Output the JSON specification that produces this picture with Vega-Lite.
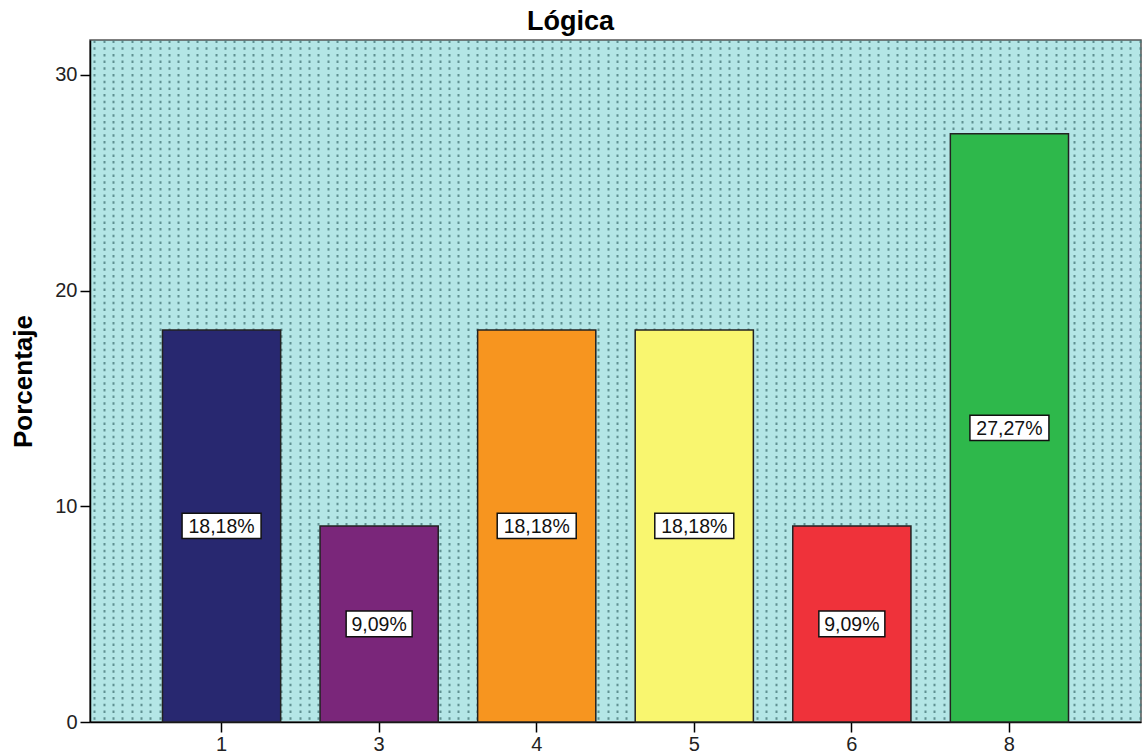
{
  "$schema": "https://vega.github.io/schema/vega-lite/v6.json",
  "width": 1051,
  "height": 682,
  "autosize": {"type": "none"},
  "padding": {"left": 90, "top": 40, "right": 2, "bottom": 31},
  "background": "white",
  "title": {"text": "Lógica", "font": "Liberation Sans", "fontSize": 27, "fontWeight": "bold", "color": "#000000", "anchor": "middle", "dx": -45, "offset": 4},
  "config": {
    "view": {"fill": "#b4e6e6", "stroke": "#555555", "strokeWidth": 1.5},
    "axis": {"labelFont": "Liberation Sans", "titleFont": "Liberation Sans", "labelColor": "#222222", "titleColor": "#000000"}
  },
  "layer": [
    {
      "data": {"values": [{"g": 0}]},
      "mark": {"type": "point", "opacity": 0},
      "encoding": {
        "x": {
          "field": "g", "type": "quantitative",
          "scale": {"domain": [-0.46, 112.14], "nice": false, "zero": false},
          "axis": {"orient": "top", "grid": true, "tickCount": 113, "gridDash": [2.5, 4.2], "gridColor": "#4a7b7c", "gridWidth": 2, "gridOpacity": 0.8, "labels": false, "ticks": false, "domain": false, "title": null}
        }
      }
    },
    {
      "data": {"values": [
        {"Categoria": "1", "Porcentaje": 18.18},
        {"Categoria": "3", "Porcentaje": 9.09},
        {"Categoria": "4", "Porcentaje": 18.18},
        {"Categoria": "5", "Porcentaje": 18.18},
        {"Categoria": "6", "Porcentaje": 9.09},
        {"Categoria": "8", "Porcentaje": 27.27}
      ]},
      "transform": [
        {"calculate": "replace(format(datum.Porcentaje, '.2f'), '.', ',') + '%'", "as": "Etiqueta"},
        {"calculate": "datum.Porcentaje / 2", "as": "Mitad"}
      ],
      "encoding": {
        "x": {
          "field": "Categoria", "type": "ordinal",
          "scale": {"type": "band", "paddingInner": 0.25, "paddingOuter": 0.46},
          "axis": {"title": null, "labelAngle": 0, "labelFontSize": 20, "tickSize": 10, "tickColor": "#000000", "tickWidth": 1.5, "domainColor": "#000000", "domainWidth": 1.5, "labelPadding": 2, "grid": false}
        }
      },
      "layer": [
        {
          "mark": {"type": "bar", "stroke": "#222222", "strokeWidth": 1.5},
          "encoding": {
            "y": {
              "field": "Porcentaje", "type": "quantitative",
              "scale": {"domain": [0, 31.62], "nice": false},
              "axis": {"title": "Porcentaje", "titleFontSize": 26, "titleFontWeight": "bold", "titlePadding": 18, "values": [0, 10, 20, 30], "labelFontSize": 20, "tickSize": 10, "tickColor": "#000000", "tickWidth": 1.5, "domainColor": "#000000", "domainWidth": 1.5, "labelPadding": 3, "grid": false}
            },
            "color": {
              "field": "Categoria", "type": "nominal",
              "scale": {"domain": ["1", "3", "4", "5", "6", "8"], "range": ["#282870", "#7a267a", "#f7951f", "#f9f66f", "#ef323a", "#2eb84b"]},
              "legend": null
            }
          }
        },
        {
          "mark": {"type": "point", "filled": true, "fill": "white", "stroke": "#111111", "strokeWidth": 1.5, "opacity": 1},
          "encoding": {
            "y": {"field": "Mitad", "type": "quantitative"},
            "shape": {
              "condition": {"test": "datum.Porcentaje >= 10", "value": "M-1,-0.32L1,-0.32L1,0.32L-1,0.32Z"},
              "value": "M-1,-0.39L1,-0.39L1,0.39L-1,0.39Z"
            },
            "size": {
              "condition": {"test": "datum.Porcentaje >= 10", "value": 6241},
              "value": 4356
            }
          }
        },
        {
          "mark": {"type": "text", "font": "Liberation Sans", "fontSize": 19.5, "color": "#111111", "baseline": "middle", "align": "center", "dy": 1},
          "encoding": {
            "y": {"field": "Mitad", "type": "quantitative"},
            "text": {"field": "Etiqueta", "type": "nominal"}
          }
        }
      ]
    }
  ],
  "resolve": {"scale": {"x": "independent"}}
}
